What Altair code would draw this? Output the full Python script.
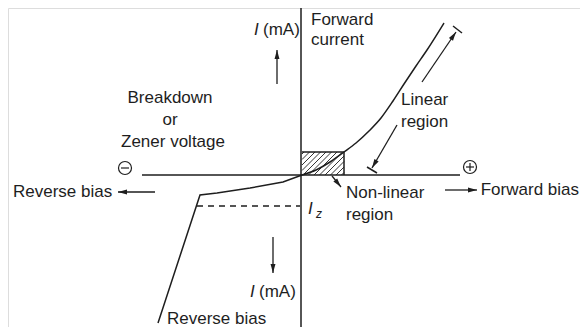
import math
import altair as alt
import pandas as pd

# ---- coordinate frame (arbitrary voltage units on x, current units on y; origin = axes crossing)
X_DOMAIN = [-29.4, 27.8]
Y_DOMAIN = [-15.2, 16.7]

# ---- characteristic curves
forward_v = [0, 1.4, 2.8, 4.2, 5.4, 6.7, 7.9, 9.1, 10.2, 11.4, 12.5, 14.2]
forward_i = [0, 0.5, 1.3, 2.3, 3.2, 4.4, 5.7, 7.4, 9.1, 10.9, 12.5, 15.2]
reverse_v = [0, -1.9, -5.2, -8.5, -10.2, -14.4]
reverse_i = [0, -0.7, -1.3, -1.8, -2.0, -14.8]

# ---- reference levels
zener_current = -3.1
zener_dash_v = [-10.5, -0.2]
nonlinear_box_v = 4.2
nonlinear_box_i = 2.3
hatch_offsets = [-2.1, -1.55, -1.0, -0.45, 0.1, 0.65, 1.2, 1.75, 2.3, 2.85, 3.4, 3.95]

# ---- axes extents
v_axis_i = [17.5, -16.5]
h_axis_v = [-16.0, 15.8]

# ---- arrows: (x_from, y_from, x_to, y_to) ; head at "to"
arrow_x1 = [-2.5, -2.9, -14.7, 14.3, 12.0, 9.5, 3.0]
arrow_y1 = [9.1, -6.2, -1.7, -1.5, 9.3, 5.0, -0.1]
arrow_x2 = [-2.5, -2.9, -18.4, 17.5, 15.4, 7.0, 3.9]
arrow_y2 = [12.5, -9.8, -1.7, -1.5, 14.3, 0.7, -1.2]

# ---- end bars of the "Linear region" dimension
bar_x1 = [15.1, 6.5]
bar_y1 = [14.9, 0.8]
bar_x2 = [16.0, 7.5]
bar_y2 = [14.2, 0.2]

# ---- polarity signs (circle centres) and their strokes
sign_x = [-17.7, 16.8]
sign_y = [0.7, 0.8]
sign_stroke_x1 = [-18.1, 16.4, 16.8]
sign_stroke_y1 = [0.7, 0.8, 0.4]
sign_stroke_x2 = [-17.3, 17.2, 16.8]
sign_stroke_y2 = [0.7, 0.8, 1.2]

# ---- labels
center_labels = ["Breakdown", "or", "Zener voltage"]
center_x = [-13.2, -13.2, -12.9]
center_y = [7.7, 5.5, 3.3]

left_labels = ["(mA)", "Forward", "current", "Linear", "region", "Non-linear", "region",
               "Reverse bias", "(mA)", "Reverse bias"]
left_x = [-3.9, 0.9, 0.9, 9.9, 9.9, 4.4, 4.4, -28.9, -4.3, -13.5]
left_y = [14.5, 15.5, 13.5, 7.5, 5.3, -1.8, -4.0, -1.7, -11.7, -14.4]

right_labels = ["Forward bias"]
right_x = [27.7]
right_y = [-1.5]

italic_labels = ["I", "I", "I", "z"]
italic_x = [-4.8, -5.2, 0.6, 1.4]
italic_y = [14.5, -11.7, -3.4, -3.9]
italic_size = [17, 17, 17, 12]

INK = "#1e1e1e"
FONT = "Liberation Sans"

xs = alt.Scale(domain=X_DOMAIN, nice=False, zero=False)
ys = alt.Scale(domain=Y_DOMAIN, nice=False, zero=False)


def enc_xy():
    return dict(x=alt.X("x:Q", scale=xs, axis=None), y=alt.Y("y:Q", scale=ys, axis=None))


# ---- straight segments (axes, box outline, hatch, arrow shafts, bars, signs)
segs = []
segs.append(dict(x=-0.1, y=v_axis_i[0], x2=-0.1, y2=v_axis_i[1], w=1.5))
segs.append(dict(x=h_axis_v[0], y=0, x2=h_axis_v[1], y2=0, w=1.5))
segs.append(dict(x=0, y=nonlinear_box_i, x2=nonlinear_box_v, y2=nonlinear_box_i, w=1.5))
segs.append(dict(x=nonlinear_box_v, y=nonlinear_box_i, x2=nonlinear_box_v, y2=0, w=1.5))
for c in hatch_offsets:
    sx, sy = (c, 0.0) if c >= 0 else (0.0, -c)
    if c + nonlinear_box_i <= nonlinear_box_v:
        ex, ey = c + nonlinear_box_i, nonlinear_box_i
    else:
        ex, ey = nonlinear_box_v, nonlinear_box_v - c
    segs.append(dict(x=sx, y=sy, x2=ex, y2=ey, w=0.9))
for a, b, c, d in zip(arrow_x1, arrow_y1, arrow_x2, arrow_y2):
    segs.append(dict(x=a, y=b, x2=c, y2=d, w=1.3))
for a, b, c, d in zip(bar_x1, bar_y1, bar_x2, bar_y2):
    segs.append(dict(x=a, y=b, x2=c, y2=d, w=1.5))
for a, b, c, d in zip(sign_stroke_x1, sign_stroke_y1, sign_stroke_x2, sign_stroke_y2):
    segs.append(dict(x=a, y=b, x2=c, y2=d, w=1.2))
seg_df = pd.DataFrame(segs)

rules = alt.Chart(seg_df).mark_rule(color=INK).encode(
    **enc_xy(),
    x2="x2:Q", y2="y2:Q",
    strokeWidth=alt.StrokeWidth("w:Q", scale=None),
)

dash_df = pd.DataFrame(dict(x=[zener_dash_v[0]], y=[zener_current],
                            x2=[zener_dash_v[1]], y2=[zener_current]))
dashed = alt.Chart(dash_df).mark_rule(color=INK, strokeWidth=1.6, strokeDash=[6, 5]).encode(
    **enc_xy(), x2="x2:Q", y2="y2:Q")

fwd_df = pd.DataFrame(dict(x=forward_v, y=forward_i, o=list(range(len(forward_v)))))
fwd = alt.Chart(fwd_df).mark_line(color=INK, strokeWidth=1.5, interpolate="monotone").encode(
    **enc_xy(), order="o:Q")
rev_df = pd.DataFrame(dict(x=reverse_v, y=reverse_i, o=list(range(len(reverse_v)))))
rev = alt.Chart(rev_df).mark_line(color=INK, strokeWidth=1.5).encode(**enc_xy(), order="o:Q")

# ---- arrowheads (tip at the end point, rotated along the shaft)
heads = []
for a, b, c, d in zip(arrow_x1, arrow_y1, arrow_x2, arrow_y2):
    ang = math.degrees(math.atan2(c - a, d - b)) % 360
    heads.append(dict(x=c, y=d, angle=ang))
heads_df = pd.DataFrame(heads)
ARROW = "M0,0L0.55,2L-0.55,2Z"
arrowheads = alt.Chart(heads_df).mark_point(shape=ARROW, filled=True, size=81, color=INK,
                                            opacity=1, strokeWidth=0).encode(
    **enc_xy(), angle=alt.Angle("angle:Q", scale=None))

# ---- polarity circles
sign_df = pd.DataFrame(dict(x=sign_x, y=sign_y))
signs = alt.Chart(sign_df).mark_point(shape="circle", filled=False, size=169, color=INK,
                                      strokeWidth=1.2, opacity=1).encode(**enc_xy())


# ---- texts
def text_layer(labels, xv, yv, align, style="normal", size=17, font=FONT):
    df = pd.DataFrame(dict(x=xv, y=yv, t=labels))
    return alt.Chart(df).mark_text(align=align, baseline="middle", font=font, fontSize=size,
                                   fontStyle=style, color=INK).encode(**enc_xy(), text="t:N")


t_center = text_layer(center_labels, center_x, center_y, "center")
t_left = text_layer(left_labels, left_x, left_y, "left")
t_right = text_layer(right_labels, right_x, right_y, "right")
ital_df = pd.DataFrame(dict(x=italic_x, y=italic_y, t=italic_labels, s=italic_size))
t_ital = alt.Chart(ital_df).mark_text(align="left", baseline="middle", font=FONT,
                                      fontStyle="italic", color=INK).encode(
    **enc_xy(), text="t:N", size=alt.Size("s:Q", scale=None))

chart = alt.layer(rules, dashed, fwd, rev, arrowheads, signs, t_center, t_left, t_right, t_ital
                  ).properties(width=572, height=319, padding=0,
                               autosize=alt.AutoSizeParams(type="none")
                  ).configure_view(stroke=None).configure(background="white")

chart.save("out.html", embed_options={"renderer": "svg", "actions": False})
